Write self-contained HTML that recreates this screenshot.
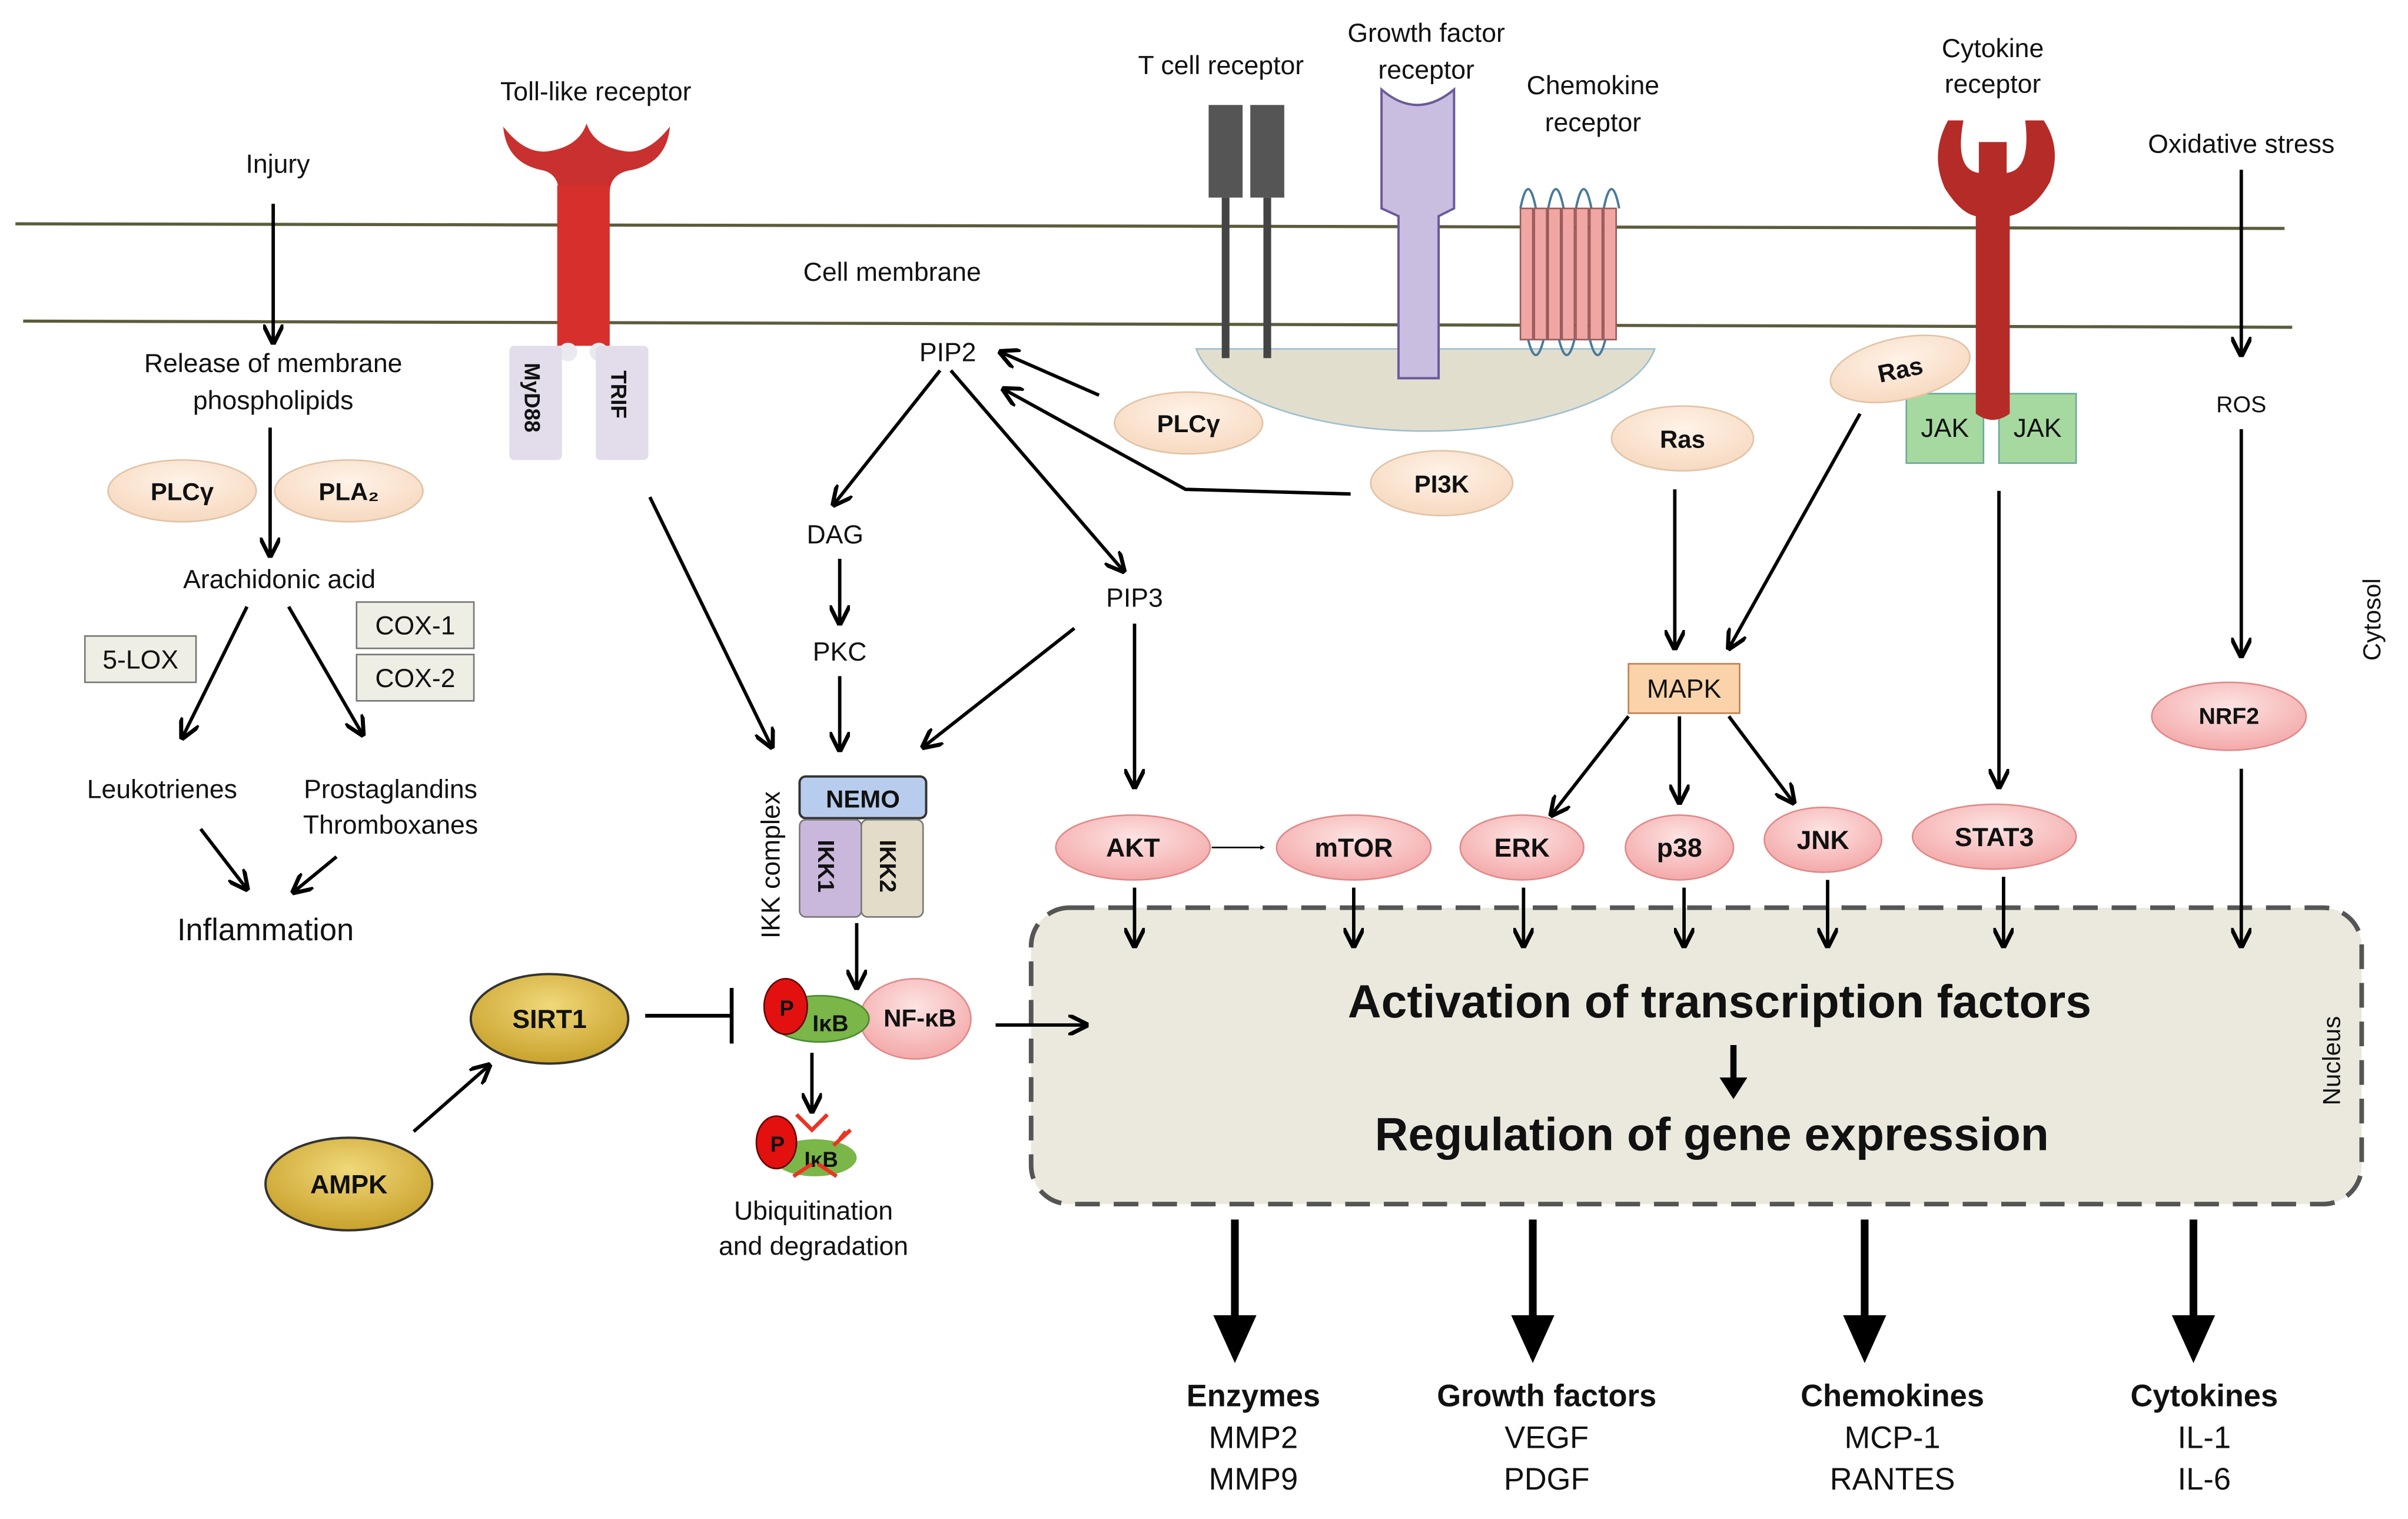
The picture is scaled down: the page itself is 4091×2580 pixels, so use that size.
<!DOCTYPE html>
<html><head><meta charset="utf-8"><style>
html,body{margin:0;padding:0;background:#fff;}
svg{display:block;}
text{font-family:"Liberation Sans",sans-serif;fill:#111;}
</style></head><body>
<svg width="4091" height="2580" viewBox="0 0 1560 984" preserveAspectRatio="none" xmlns="http://www.w3.org/2000/svg">
<defs>
<marker id="a" viewBox="0 0 10 10" refX="9" refY="5" markerWidth="6" markerHeight="6" orient="auto-start-reverse"><path d="M0,0 L10,5 L0,10" fill="none" stroke="#000" stroke-width="2"/></marker>
<marker id="b" viewBox="0 0 10 10" refX="5" refY="5" markerWidth="3" markerHeight="3" orient="auto"><path d="M0,0 L10,5 L0,10 z" fill="#000"/></marker>
<radialGradient id="pk" cx="50%" cy="35%" r="65%"><stop offset="0" stop-color="#fde3e3"/><stop offset="1" stop-color="#f4a9a9"/></radialGradient>
<radialGradient id="pe" cx="50%" cy="35%" r="65%"><stop offset="0" stop-color="#fff3e8"/><stop offset="1" stop-color="#f7d9c0"/></radialGradient>
<radialGradient id="gd" cx="50%" cy="35%" r="65%"><stop offset="0" stop-color="#f0d87a"/><stop offset="1" stop-color="#c9a22c"/></radialGradient>
</defs>
<!-- membrane -->
<line x1="10" y1="145" x2="1480" y2="148" stroke="#5c5c3c" stroke-width="2"/>
<line x1="15" y1="208" x2="1485" y2="212" stroke="#5c5c3c" stroke-width="2"/>
<!-- raft -->
<path d="M775,226 A150,62 0 0 0 1072,226 Z" fill="#e2dece" stroke="#9fbfcf" stroke-width="1"/>
<!-- Nucleus -->
<rect x="668" y="588" width="862" height="192" rx="25" fill="#ebe9dd" stroke="#555" stroke-width="3" stroke-dasharray="16,9"/>

<!-- Toll-like receptor -->
<path d="M326,82 Q328,105 350,110 Q362,112 362,125 L395,125 Q395,112 410,110 Q432,105 434,82 Q420,100 405,98 Q385,95 380,80 Q375,95 355,98 Q340,100 326,82 Z" fill="#c8312f"/>
<rect x="361" y="120" width="34" height="104" fill="#d7302c"/>
<circle cx="368" cy="228" r="6" fill="#e9e9ef"/><circle cx="388" cy="228" r="6" fill="#e9e9ef"/>
<rect x="330" y="224" width="34" height="74" rx="3" fill="#e3dcea"/>
<rect x="386" y="224" width="34" height="74" rx="3" fill="#e3dcea"/>
<text transform="translate(340,235) rotate(90)" font-size="14" font-weight="bold">MyD88</text>
<text transform="translate(396,240) rotate(90)" font-size="14" font-weight="bold">TRIF</text>
<text x="386" y="65" font-size="17" text-anchor="middle">Toll-like receptor</text>

<!-- T cell receptor -->
<rect x="783" y="68" width="22" height="60" fill="#555"/><rect x="810" y="68" width="22" height="60" fill="#555"/>
<line x1="794" y1="128" x2="794" y2="232" stroke="#444" stroke-width="5"/>
<line x1="821" y1="128" x2="821" y2="232" stroke="#444" stroke-width="5"/>
<text x="791" y="48" font-size="17" text-anchor="middle">T cell receptor</text>
<!-- Growth factor -->
<path d="M895,58 Q918,78 942,58 L942,135 L932,140 L932,245 L906,245 L906,140 L895,135 Z" fill="#c9bde0" stroke="#6a5a9a" stroke-width="1.5"/>
<text x="924" y="27" font-size="17" text-anchor="middle">Growth factor</text>
<text x="924" y="51" font-size="17" text-anchor="middle">receptor</text>
<!-- Chemokine receptor -->
<g fill="#f0a7a3" stroke="#9a5a5a" stroke-width="1">
<rect x="985" y="135" width="8" height="85"/><rect x="994" y="135" width="8" height="85"/><rect x="1003" y="135" width="8" height="85"/><rect x="1012" y="135" width="8" height="85"/><rect x="1021" y="135" width="8" height="85"/><rect x="1030" y="135" width="8" height="85"/><rect x="1039" y="135" width="8" height="85"/>
</g>
<path d="M985,135 Q990,110 995,135 M1003,135 Q1008,110 1013,135 M1021,135 Q1026,110 1031,135 M1039,135 Q1044,110 1049,135 M990,220 Q995,240 1000,220 M1010,220 Q1015,240 1020,220 M1030,220 Q1035,240 1040,220" stroke="#4a7a9a" fill="none" stroke-width="1.5"/>
<text x="1032" y="61" font-size="17" text-anchor="middle">Chemokine</text>
<text x="1032" y="85" font-size="17" text-anchor="middle">receptor</text>
<!-- Cytokine receptor -->
<rect x="1235" y="255" width="50" height="45" fill="#a6d9a0" stroke="#6aaa9a"/><rect x="1295" y="255" width="50" height="45" fill="#a6d9a0" stroke="#6aaa9a"/>
<text x="1260" y="283" font-size="17" text-anchor="middle">JAK</text><text x="1320" y="283" font-size="17" text-anchor="middle">JAK</text>
<path d="M1262,78 Q1250,100 1260,122 Q1270,138 1280,140 L1280,268 Q1291,276 1302,268 L1302,140 Q1318,136 1328,118 Q1336,96 1324,78 L1312,78 Q1316,110 1300,112 L1300,92 L1282,92 L1282,112 Q1266,110 1272,78 Z" fill="#b52b28"/>
<text x="1291" y="37" font-size="17" text-anchor="middle">Cytokine</text>
<text x="1291" y="60" font-size="17" text-anchor="middle">receptor</text>

<!-- labels top -->
<text x="180" y="112" font-size="17" text-anchor="middle">Injury</text>
<text x="578" y="182" font-size="17" text-anchor="middle">Cell membrane</text>
<text x="1452" y="99" font-size="17" text-anchor="middle">Oxidative stress</text>
<text x="177" y="241" font-size="17" text-anchor="middle">Release of membrane</text>
<text x="177" y="265" font-size="17" text-anchor="middle">phospholipids</text>
<text x="181" y="381" font-size="17" text-anchor="middle">Arachidonic acid</text>
<text x="105" y="517" font-size="17" text-anchor="middle">Leukotrienes</text>
<text x="253" y="517" font-size="17" text-anchor="middle">Prostaglandins</text>
<text x="253" y="540" font-size="17" text-anchor="middle">Thromboxanes</text>
<text x="172" y="609" font-size="20" text-anchor="middle">Inflammation</text>
<text x="614" y="234" font-size="17" text-anchor="middle">PIP2</text>
<text x="541" y="352" font-size="17" text-anchor="middle">DAG</text>
<text x="544" y="428" font-size="17" text-anchor="middle">PKC</text>
<text x="735" y="393" font-size="17" text-anchor="middle">PIP3</text>
<text x="1452" y="267" font-size="15" text-anchor="middle">ROS</text>
<text transform="translate(1542,428) rotate(-90)" font-size="16">Cytosol</text>
<text transform="translate(1516,716) rotate(-90)" font-size="16">Nucleus</text>
<text transform="translate(505,608) rotate(-90)" font-size="17">IKK complex</text>

<!-- boxes -->
<rect x="55" y="412" width="72" height="30" fill="#efeee4" stroke="#777"/><text x="91" y="433" font-size="17" text-anchor="middle">5-LOX</text>
<rect x="231" y="390" width="76" height="30" fill="#efeee4" stroke="#777"/><text x="269" y="411" font-size="17" text-anchor="middle">COX-1</text>
<rect x="231" y="424" width="76" height="30" fill="#efeee4" stroke="#777"/><text x="269" y="445" font-size="17" text-anchor="middle">COX-2</text>
<rect x="1055" y="430" width="72" height="32" fill="#fbd3aa" stroke="#c08050"/><text x="1091" y="452" font-size="17" text-anchor="middle">MAPK</text>
<rect x="518" y="503" width="82" height="27" rx="4" fill="#b8cdee" stroke="#333" stroke-width="1.5"/><text x="559" y="523" font-size="16" font-weight="bold" text-anchor="middle">NEMO</text>
<rect x="518" y="531" width="40" height="63" rx="4" fill="#c9b8dc" stroke="#777"/><rect x="558" y="531" width="40" height="63" rx="4" fill="#e2dcc8" stroke="#777"/>
<text transform="translate(530,544) rotate(90)" font-size="15" font-weight="bold">IKK1</text>
<text transform="translate(570,544) rotate(90)" font-size="15" font-weight="bold">IKK2</text>

<!-- peach ellipses -->
<g fill="url(#pe)" stroke="#e0c4a8" stroke-width="1">
<ellipse cx="118" cy="318" rx="48" ry="20"/><ellipse cx="226" cy="318" rx="48" ry="20"/>
<ellipse cx="770" cy="274" rx="48" ry="20"/><ellipse cx="934" cy="313" rx="46" ry="21"/>
<ellipse cx="1090" cy="284" rx="46" ry="21"/><ellipse cx="1231" cy="239" rx="46" ry="20" transform="rotate(-12 1231 239)"/>
</g>
<g font-size="16" font-weight="bold" text-anchor="middle">
<text x="118" y="324">PLCγ</text><text x="226" y="324">PLA₂</text><text x="770" y="280">PLCγ</text>
<text x="934" y="319">PI3K</text><text x="1090" y="290">Ras</text><text x="1231" y="245" transform="rotate(-12 1231 239)">Ras</text>
</g>
<!-- pink ellipses -->
<g fill="url(#pk)" stroke="#e08a8a" stroke-width="1">
<ellipse cx="734" cy="549" rx="50" ry="21"/><ellipse cx="877" cy="549" rx="50" ry="21"/><ellipse cx="986" cy="549" rx="40" ry="21"/>
<ellipse cx="1088" cy="549" rx="35" ry="21"/><ellipse cx="1181" cy="544" rx="38" ry="21"/><ellipse cx="1292" cy="542" rx="53" ry="21"/>
<ellipse cx="1444" cy="464" rx="50" ry="22"/><ellipse cx="593" cy="660" rx="36" ry="26"/>
</g>
<g font-size="17" font-weight="bold" text-anchor="middle">
<text x="734" y="555">AKT</text><text x="877" y="555">mTOR</text><text x="986" y="555">ERK</text><text x="1088" y="555">p38</text>
<text x="1181" y="550">JNK</text><text x="1292" y="548">STAT3</text><text x="1444" y="469" font-size="15">NRF2</text><text x="596" y="665" font-size="16">NF-κB</text>
</g>
<!-- IkB -->
<ellipse cx="531" cy="660" rx="32" ry="15" fill="#7ab648" stroke="#4a8a30"/>
<ellipse cx="509" cy="652" rx="14" ry="18" fill="#e31010" stroke="#600"/>
<text x="505" y="658" font-size="14" font-weight="bold">P</text><text x="538" y="668" font-size="15" font-weight="bold" text-anchor="middle">IκB</text>
<ellipse cx="528" cy="750" rx="27" ry="12" fill="#7ab648"/>
<ellipse cx="503" cy="740" rx="13" ry="17" fill="#e31010" stroke="#600"/>
<text x="499" y="746" font-size="14" font-weight="bold">P</text><text x="532" y="756" font-size="14" font-weight="bold" text-anchor="middle">IκB</text>
<path d="M516,722 L526,732 L536,722 M540,742 L551,732 M514,762 L526,754 M530,754 L542,762 M544,738 L548,733" stroke="#e32" stroke-width="2.5" fill="none"/>
<text x="527" y="790" font-size="17" text-anchor="middle">Ubiquitination</text>
<text x="527" y="813" font-size="17" text-anchor="middle">and degradation</text>
<!-- gold -->
<ellipse cx="356" cy="660" rx="51" ry="29" fill="url(#gd)" stroke="#333" stroke-width="1.5"/>
<ellipse cx="226" cy="767" rx="54" ry="30" fill="url(#gd)" stroke="#333" stroke-width="1.5"/>
<text x="356" y="666" font-size="17" font-weight="bold" text-anchor="middle">SIRT1</text>
<text x="226" y="773" font-size="17" font-weight="bold" text-anchor="middle">AMPK</text>

<!-- nucleus text -->
<text x="1114" y="659" font-size="30" font-weight="bold" text-anchor="middle">Activation of transcription factors</text>
<text x="1109" y="745" font-size="30" font-weight="bold" text-anchor="middle">Regulation of gene expression</text>
<path d="M1123,677 L1123,700" stroke="#000" stroke-width="4"/><path d="M1114,698 L1132,698 L1123,712 Z" fill="#000"/>

<!-- arrows -->
<g stroke="#000" stroke-width="2.2" fill="none" marker-end="url(#a)">
<line x1="177" y1="132" x2="177" y2="222"/>
<line x1="175" y1="277" x2="175" y2="360"/>
<line x1="160" y1="393" x2="118" y2="478"/>
<line x1="187" y1="393" x2="235" y2="476"/>
<line x1="130" y1="537" x2="160" y2="576"/>
<line x1="218" y1="555" x2="190" y2="578"/>
<line x1="712" y1="256" x2="648" y2="228"/>
<polyline points="875,320 768,317 650,252"/>
<line x1="609" y1="240" x2="540" y2="327"/>
<line x1="616" y1="240" x2="728" y2="370"/>
<line x1="544" y1="362" x2="544" y2="404"/>
<line x1="544" y1="438" x2="544" y2="486"/>
<line x1="696" y1="407" x2="598" y2="484"/>
<line x1="421" y1="322" x2="500" y2="484"/>
<line x1="735" y1="404" x2="735" y2="510"/>
<line x1="1085" y1="317" x2="1085" y2="420"/>
<line x1="1205" y1="268" x2="1120" y2="420"/>
<line x1="1295" y1="318" x2="1295" y2="510"/>
<line x1="1452" y1="110" x2="1452" y2="230"/>
<line x1="1452" y1="278" x2="1452" y2="425"/>
<line x1="1055" y1="464" x2="1005" y2="528"/>
<line x1="1088" y1="464" x2="1088" y2="520"/>
<line x1="1120" y1="464" x2="1162" y2="520"/>
<line x1="555" y1="598" x2="555" y2="640"/>
<line x1="526" y1="682" x2="526" y2="720"/>
<line x1="645" y1="664" x2="704" y2="664"/>
<line x1="268" y1="733" x2="317" y2="690"/>
<line x1="735" y1="575" x2="735" y2="613"/>
<line x1="877" y1="575" x2="877" y2="613"/>
<line x1="987" y1="575" x2="987" y2="613"/>
<line x1="1091" y1="575" x2="1091" y2="613"/>
<line x1="1184" y1="570" x2="1184" y2="613"/>
<line x1="1298" y1="568" x2="1298" y2="613"/>
<line x1="1452" y1="498" x2="1452" y2="613"/>
</g>
<line x1="785" y1="549" x2="818" y2="549" stroke="#000" stroke-width="1" marker-end="url(#b)"/>
<path d="M418,658 L474,658 M474,640 L474,676" stroke="#000" stroke-width="2.5" fill="none"/>
<!-- output arrows -->
<g stroke="#000" stroke-width="5">
<line x1="800" y1="790" x2="800" y2="860"/><line x1="993" y1="790" x2="993" y2="860"/>
<line x1="1208" y1="790" x2="1208" y2="860"/><line x1="1421" y1="790" x2="1421" y2="860"/>
</g>
<g fill="#000">
<path d="M786,852 L814,852 L800,883 Z"/><path d="M979,852 L1007,852 L993,883 Z"/>
<path d="M1194,852 L1222,852 L1208,883 Z"/><path d="M1407,852 L1435,852 L1421,883 Z"/>
</g>
<g font-size="20" text-anchor="middle">
<text x="812" y="911" font-weight="bold">Enzymes</text><text x="812" y="938">MMP2</text><text x="812" y="965">MMP9</text>
<text x="1002" y="911" font-weight="bold">Growth factors</text><text x="1002" y="938">VEGF</text><text x="1002" y="965">PDGF</text>
<text x="1226" y="911" font-weight="bold">Chemokines</text><text x="1226" y="938">MCP-1</text><text x="1226" y="965">RANTES</text>
<text x="1428" y="911" font-weight="bold">Cytokines</text><text x="1428" y="938">IL-1</text><text x="1428" y="965">IL-6</text>
</g>
</svg>
</body></html>
